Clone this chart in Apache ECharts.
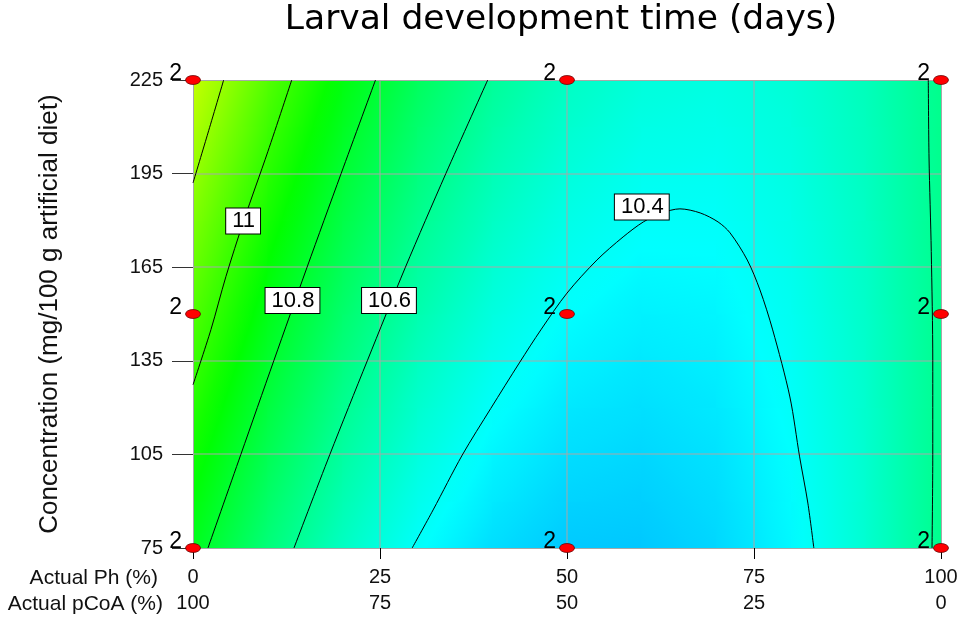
<!DOCTYPE html>
<html>
<head>
<meta charset="utf-8">
<script src="https://cdn.jsdelivr.net/npm/echarts@6/dist/echarts.min.js"></script>
<style>
html,body{margin:0;padding:0;background:#ffffff;}
#chart{width:963px;height:618px;}
</style>
</head>
<body>
<div id="chart"></div>
<script>
// ---------- text ----------
const titleText = 'Larval development time (days)';
const yAxisName = 'Concentration (mg/100 g artificial diet)';
const xRowNames = ['Actual Ph (%)', 'Actual pCoA (%)'];

// ---------- axes ----------
const phTicks = [0, 25, 50, 75, 100];
const concTicks = [75, 105, 135, 165, 195, 225];

// ---------- response surface ----------
const gridPh = [0, 10, 20, 30, 40, 50, 60, 70, 80, 90, 100];
const gridConc = [75, 90, 105, 120, 135, 150, 165, 180, 195, 210, 225];
const surfaceRow075 = [10.840, 10.656, 10.507, 10.394, 10.318, 10.277, 10.273, 10.305, 10.373, 10.478, 10.618];
const surfaceRow090 = [10.884, 10.694, 10.541, 10.424, 10.343, 10.298, 10.289, 10.316, 10.380, 10.480, 10.616];
const surfaceRow105 = [10.928, 10.734, 10.576, 10.454, 10.368, 10.319, 10.305, 10.328, 10.387, 10.482, 10.614];
const surfaceRow120 = [10.972, 10.774, 10.611, 10.485, 10.394, 10.340, 10.322, 10.341, 10.395, 10.486, 10.612];
const surfaceRow135 = [11.018, 10.814, 10.647, 10.516, 10.421, 10.363, 10.340, 10.354, 10.403, 10.489, 10.612];
const surfaceRow150 = [11.063, 10.855, 10.684, 10.548, 10.449, 10.385, 10.358, 10.367, 10.412, 10.494, 10.611];
const surfaceRow165 = [11.110, 10.897, 10.721, 10.581, 10.477, 10.409, 10.377, 10.381, 10.422, 10.499, 10.612];
const surfaceRow180 = [11.156, 10.939, 10.758, 10.614, 10.505, 10.433, 10.396, 10.396, 10.432, 10.504, 10.613];
const surfaceRow195 = [11.204, 10.982, 10.797, 10.647, 10.534, 10.457, 10.416, 10.411, 10.443, 10.510, 10.614];
const surfaceRow210 = [11.252, 11.026, 10.836, 10.682, 10.564, 10.482, 10.437, 10.427, 10.454, 10.517, 10.616];
const surfaceRow225 = [11.301, 11.070, 10.875, 10.716, 10.594, 10.508, 10.458, 10.444, 10.466, 10.524, 10.619];
const surface = [surfaceRow075, surfaceRow090, surfaceRow105, surfaceRow120, surfaceRow135, surfaceRow150,
                 surfaceRow165, surfaceRow180, surfaceRow195, surfaceRow210, surfaceRow225];

// ---------- contour lines [Ph, Conc] ----------
const contour11p2 = [[4.1, 225], [2.0, 208], [0, 192]];
const contour11 = [[13.2, 225], [10.0, 202], [6.8, 180], [4.4, 162], [2.4, 145], [0, 127.3]];
const contour10p8 = [[24.4, 225], [19.8, 195], [15.25, 165], [10.8, 135], [6.4, 105], [2.0, 75]];
const contour10p6Left = [[39.4, 225], [33.8, 195], [28.4, 165], [23.3, 135], [18.3, 105], [13.5, 75]];
const contour10p6Right = [[98.3, 225], [98.4, 200], [98.7, 170], [98.9, 135], [98.9, 105], [98.8, 75]];
const contour10p4 = [[29.3, 75], [32.1, 87.2], [36.0, 104.8], [39.8, 119.7], [43.7, 134.6], [46.5, 144.9],
                     [50.0, 156.7], [54.0, 167.3], [57.5, 174.7], [60.2, 179.5], [62.7, 182.4], [65.1, 183.7],
                     [67.8, 182.4], [70.2, 179.5], [71.8, 176.0], [74.1, 167.3], [75.8, 157.7], [77.5, 144.9],
                     [79.8, 123.4], [81.1, 104.2], [82.2, 89.4], [83.0, 75]];

// contour labels
const labelPh = [6.7, 13.3, 26.2, 60.0];
const labelConc = [179.8, 154.3, 154.3, 184.3];
const labelText = ['11', '10.8', '10.6', '10.4'];

// ---------- design points ----------
const designPh = [0, 0, 0, 50, 50, 50, 100, 100, 100];
const designConc = [75, 150, 225, 75, 150, 225, 75, 150, 225];
const designReps = [2, 2, 2, 2, 2, 2, 2, 2, 2];

// ---------- styling helpers ----------
const FONT = "'Liberation Sans', Arial, sans-serif";
const CMIN = 9.87, CMAX = 11.93;
const SPECTRUM = [[0, 0, 255], [0, 255, 255], [0, 255, 0], [255, 255, 0], [255, 0, 0]];
function colorOf(v) {
  let t = (v - CMIN) / (CMAX - CMIN);
  t = Math.max(0, Math.min(1, t));
  const s = t * 4;
  const i = Math.min(3, Math.floor(s));
  const f = s - i;
  const a = SPECTRUM[i], b = SPECTRUM[i + 1];
  return 'rgb(' + Math.round(a[0] + (b[0] - a[0]) * f) + ',' +
    Math.round(a[1] + (b[1] - a[1]) * f) + ',' +
    Math.round(a[2] + (b[2] - a[2]) * f) + ')';
}

const cells = [];
for (let j = 0; j < gridConc.length - 1; j++) {
  for (let i = 0; i < gridPh.length - 1; i++) {
    cells.push([gridPh[i], gridPh[i + 1], gridConc[j], gridConc[j + 1],
      surface[j][i], surface[j][i + 1], surface[j + 1][i], surface[j + 1][i + 1]]);
  }
}

function renderCell(params, api) {
  const x0 = api.value(0), x1 = api.value(1), y0 = api.value(2), y1 = api.value(3);
  const bl = api.value(4), br = api.value(5), tl = api.value(6), tr = api.value(7);
  const pTL = api.coord([x0, y1]);
  const pBR = api.coord([x1, y0]);
  const W = pBR[0] - pTL[0], H = pBR[1] - pTL[1];
  const p = ((tr - tl) + (br - bl)) / 2;
  const q = ((bl - tl) + (br - tr)) / 2;
  const gx = p / W, gy = q / H;
  const g = Math.sqrt(gx * gx + gy * gy);
  const vc = (tl + tr + bl + br) / 4;
  let fill;
  if (g < 1e-9) {
    fill = colorOf(vc);
  } else {
    const nx = gx / g, ny = gy / g;
    const h = (W * Math.abs(nx) + H * Math.abs(ny)) / 2;
    const v0 = vc - g * h, v1 = vc + g * h;
    const stops = [];
    for (let k = 0; k <= 6; k++) {
      stops.push({ offset: k / 6, color: colorOf(v0 + (v1 - v0) * k / 6) });
    }
    fill = {
      type: 'linear', global: false,
      x: 0.5 - nx * h / W, y: 0.5 - ny * h / H,
      x2: 0.5 + nx * h / W, y2: 0.5 + ny * h / H,
      colorStops: stops
    };
  }
  return {
    type: 'rect',
    shape: { x: pTL[0] - 0.5, y: pTL[1] - 0.5, width: W + 1, height: H + 1 },
    style: { fill: fill, stroke: null, lineWidth: 0 }
  };
}

// grid lines: [orientation (0 = vertical at Ph, 1 = horizontal at Conc), value]
const gridLineItems = [];
phTicks.slice(1, -1).forEach(function (v) { gridLineItems.push([0, v]); });
concTicks.slice(1, -1).forEach(function (v) { gridLineItems.push([1, v]); });
const GRID_GRAY = '#a8a8a8';

function renderGridLine(params, api) {
  const kind = api.value(0), v = api.value(1);
  if (kind === 0) {
    const a = api.coord([v, 225]), b = api.coord([v, 75]);
    const x = Math.round(a[0]) - 0.5;
    return { type: 'rect', shape: { x: x, y: a[1], width: 1, height: b[1] - a[1] },
             style: { fill: GRID_GRAY, stroke: null } };
  }
  const a = api.coord([0, v]), b = api.coord([100, v]);
  const y = Math.round(a[1]) - 0.5;
  return { type: 'rect', shape: { x: a[0], y: y, width: b[0] - a[0], height: 1 },
           style: { fill: GRID_GRAY, stroke: null } };
}

function contourSeries(name, pts, smooth) {
  return {
    name: name, type: 'line', data: pts, zlevel: 1, z: 4, smooth: smooth,
    showSymbol: false, symbol: 'none', silent: true,
    lineStyle: { color: '#000000', width: 1 }
  };
}

const chart = echarts.init(document.getElementById('chart'), null, { renderer: 'canvas' });

const option = {
  backgroundColor: '#ffffff',
  animation: false,
  grid: { left: 193, right: 22, top: 80, bottom: 70, containLabel: false },
  xAxis: [
    {
      type: 'value', position: 'bottom', min: 0, max: 100, interval: 25, zlevel: 1, z: 3,
      axisLine: { show: true, lineStyle: { color: GRID_GRAY, width: 1 } },
      axisTick: { show: true, length: 11, lineStyle: { color: '#000' } },
      splitLine: { show: false },
      axisLabel: { margin: 19, fontSize: 20, color: '#111', fontFamily: FONT }
    },
    {
      type: 'value', position: 'bottom', offset: 26, inverse: true, min: 0, max: 100, interval: 25, zlevel: 1, z: 3,
      axisLine: { show: false }, axisTick: { show: false }, splitLine: { show: false },
      axisLabel: { margin: 19, fontSize: 20, color: '#111', fontFamily: FONT }
    },
    {
      type: 'value', position: 'top', min: 0, max: 100, interval: 25, zlevel: 1, z: 3,
      axisLine: { show: true, lineStyle: { color: GRID_GRAY, width: 1 } },
      axisTick: { show: false }, axisLabel: { show: false }, splitLine: { show: false }
    }
  ],
  yAxis: [
    {
      type: 'value', position: 'left', min: 75, max: 225, zlevel: 1, z: 3,
      axisLine: { show: true, lineStyle: { color: GRID_GRAY, width: 1 } },
      axisTick: { show: true, length: 21, customValues: concTicks, lineStyle: { color: '#333' } },
      splitLine: { show: false },
      axisLabel: { margin: 30, fontSize: 20, color: '#111', fontFamily: FONT, customValues: concTicks }
    },
    {
      type: 'value', position: 'right', min: 75, max: 225, zlevel: 1, z: 3,
      axisLine: { show: true, lineStyle: { color: GRID_GRAY, width: 1 } },
      axisTick: { show: false }, axisLabel: { show: false }, splitLine: { show: false }
    }
  ],
  graphic: [
    { type: 'text', x: 561, y: 3, zlevel: 1, z: 10,
      style: { text: titleText, font: "34.5px 'DejaVu Sans', sans-serif", fill: '#000', textAlign: 'center', textVerticalAlign: 'top' } },
    { type: 'text', x: 50, y: 314, rotation: Math.PI / 2, zlevel: 1, z: 10,
      style: { text: yAxisName, font: "26px " + FONT, fill: '#111', textAlign: 'center', textVerticalAlign: 'middle' } },
    { type: 'text', x: 158, y: 578, zlevel: 1, z: 10,
      style: { text: xRowNames[0], font: "21px " + FONT, fill: '#111', textAlign: 'right', textVerticalAlign: 'middle' } },
    { type: 'text', x: 163, y: 604, zlevel: 1, z: 10,
      style: { text: xRowNames[1], font: "21px " + FONT, fill: '#111', textAlign: 'right', textVerticalAlign: 'middle' } }
  ],
  series: [
    {
      name: 'surface', type: 'custom', data: cells, zlevel: 0, z: 1, silent: true, clip: true,
      encode: { x: [0, 1], y: [2, 3] },
      renderItem: renderCell
    },
    {
      name: 'gridlines', type: 'custom', data: gridLineItems, zlevel: 1, z: 2, silent: true, clip: false,
      renderItem: renderGridLine
    },
    contourSeries('11.2', contour11p2, 0.2),
    contourSeries('11', contour11, 0.3),
    contourSeries('10.8', contour10p8, 0.3),
    contourSeries('10.6a', contour10p6Left, 0.3),
    contourSeries('10.6b', contour10p6Right, 0.3),
    contourSeries('10.4', contour10p4, 0.3),
    {
      name: 'labels', type: 'scatter', zlevel: 1, z: 5, silent: true,
      data: labelPh.map(function (x, i) { return [x, labelConc[i], labelText[i]]; }),
      symbol: 'rect', symbolSize: 1, itemStyle: { color: 'rgba(0,0,0,0)', opacity: 1 },
      label: {
        show: true, position: 'inside',
        formatter: function (p) { return p.value[2]; },
        fontSize: 22, fontFamily: FONT, color: '#000',
        backgroundColor: '#ffffff', borderColor: '#000', borderWidth: 1,
        padding: [2, 5, 1, 6]
      }
    },
    {
      name: 'design', type: 'scatter', zlevel: 1, z: 6, silent: true, clip: false,
      data: designPh.map(function (x, i) { return [x, designConc[i], designReps[i]]; }),
      symbol: 'circle', symbolSize: [15, 9],
      itemStyle: { color: '#ff0000', borderColor: '#5a0000', borderWidth: 0.7, opacity: 1 },
      label: {
        show: true, position: 'left', distance: 3, offset: [0, -6],
        formatter: function (p) { return String(p.value[2]); },
        fontSize: 23, fontFamily: FONT, color: '#000'
      }
    }
  ]
};
chart.setOption(option);
</script>
</body>
</html>
